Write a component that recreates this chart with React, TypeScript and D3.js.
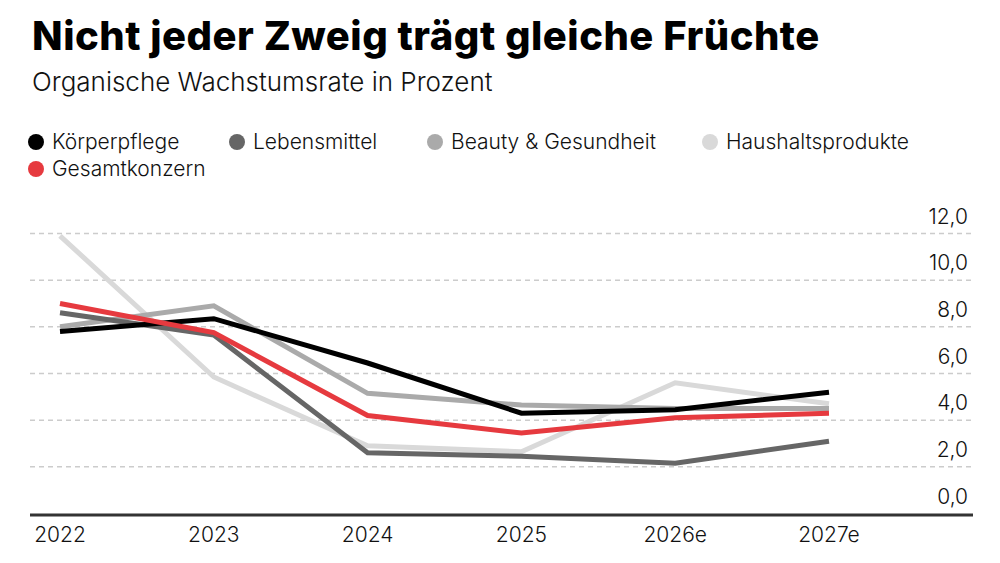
import React, { useRef, useEffect } from 'react';
import * as d3 from 'd3';

const years = ['2022', '2023', '2024', '2025', '2026e', '2027e'];
const yTicks = [0, 2, 4, 6, 8, 10, 12];

const koerperpflege = [7.8, 8.35, 6.45, 4.3, 4.45, 5.2];
const lebensmittel = [8.6, 7.65, 2.6, 2.45, 2.15, 3.1];
const beauty = [8.0, 8.9, 5.15, 4.65, 4.5, 4.5];
const haushalt = [11.9, 5.85, 2.9, 2.65, 5.6, 4.7];
const gesamt = [9.0, 7.75, 4.2, 3.45, 4.1, 4.3];

const series = [
  { name: 'Körperpflege', values: koerperpflege, color: '#000000' },
  { name: 'Lebensmittel', values: lebensmittel, color: '#666666' },
  { name: 'Beauty & Gesundheit', values: beauty, color: '#aaaaaa' },
  { name: 'Haushaltsprodukte', values: haushalt, color: '#d9d9d9' },
  { name: 'Gesamtkonzern', values: gesamt, color: '#e63a3f' },
];

// draw order: light lines at the back, totals on top
const drawOrder = [3, 2, 1, 0, 4];

const legendPos = [
  { x: 36, y: 142 },
  { x: 237, y: 142 },
  { x: 435, y: 142 },
  { x: 710, y: 142 },
  { x: 36, y: 169 },
];

const FONT = 'Inter, "Open Sans", sans-serif';

function LineChart() {
  const svgRef = useRef(null);

  useEffect(() => {
    const svg = d3.select(svgRef.current);
    svg.selectAll('*').remove();

    const width = 1000;
    const height = 563;

    const x = d3.scalePoint().domain(years).range([60, 829]);
    const y = d3.scaleLinear().domain([0, 12]).range([513.5, 233.5]);

    svg.append('rect').attr('width', width).attr('height', height).attr('fill', '#fff');

    svg.append('text')
      .attr('x', 32)
      .attr('y', 50)
      .style('font', `800 40px ${FONT}`)
      .style('letter-spacing', '0.5px')
      .attr('fill', '#000')
      .text('Nicht jeder Zweig trägt gleiche Früchte');

    svg.append('text')
      .attr('x', 32)
      .attr('y', 91)
      .style('font', `300 26px ${FONT}`)
      .attr('fill', '#111')
      .text('Organische Wachstumsrate in Prozent');

    const legend = svg.append('g')
      .selectAll('g')
      .data(series)
      .join('g')
      .attr('transform', (d, i) => `translate(${legendPos[i].x},${legendPos[i].y})`);

    legend.append('circle').attr('r', 8).attr('fill', d => d.color);
    legend.append('text')
      .attr('x', 16)
      .attr('y', 7)
      .style('font', `300 21px ${FONT}`)
      .attr('fill', '#111')
      .text(d => d.name);

    // dashed gridlines
    svg.append('g')
      .selectAll('line')
      .data(yTicks.filter(t => t > 0))
      .join('line')
      .attr('x1', 30)
      .attr('x2', 972)
      .attr('y1', d => y(d))
      .attr('y2', d => y(d))
      .attr('stroke', '#cccccc')
      .attr('stroke-width', 1.5)
      .attr('stroke-dasharray', '5,4');

    svg.append('g')
      .selectAll('text')
      .data(yTicks)
      .join('text')
      .attr('x', 968)
      .attr('y', d => y(d) - 10)
      .attr('text-anchor', 'end')
      .style('font', `300 21px ${FONT}`)
      .attr('fill', '#111')
      .text(d => d3.format('.1f')(d).replace('.', ','));

    svg.append('line')
      .attr('x1', 30)
      .attr('x2', 973)
      .attr('y1', 515)
      .attr('y2', 515)
      .attr('stroke', '#333')
      .attr('stroke-width', 3);

    svg.append('g')
      .selectAll('text')
      .data(years)
      .join('text')
      .attr('x', d => x(d))
      .attr('y', 542)
      .attr('text-anchor', 'middle')
      .style('font', `300 21px ${FONT}`)
      .attr('fill', '#111')
      .text(d => d);

    const line = d3.line()
      .x((d, i) => x(years[i]))
      .y(d => y(d));

    svg.append('g')
      .selectAll('path')
      .data(drawOrder.map(i => series[i]))
      .join('path')
      .attr('d', d => line(d.values))
      .attr('fill', 'none')
      .attr('stroke', d => d.color)
      .attr('stroke-width', 5);
  }, []);

  return <svg ref={svgRef} width={1000} height={563} style={{ display: 'block' }} />;
}

export default function App() {
  return (
    <div style={{ margin: -8 }}>
      <LineChart />
    </div>
  );
}
